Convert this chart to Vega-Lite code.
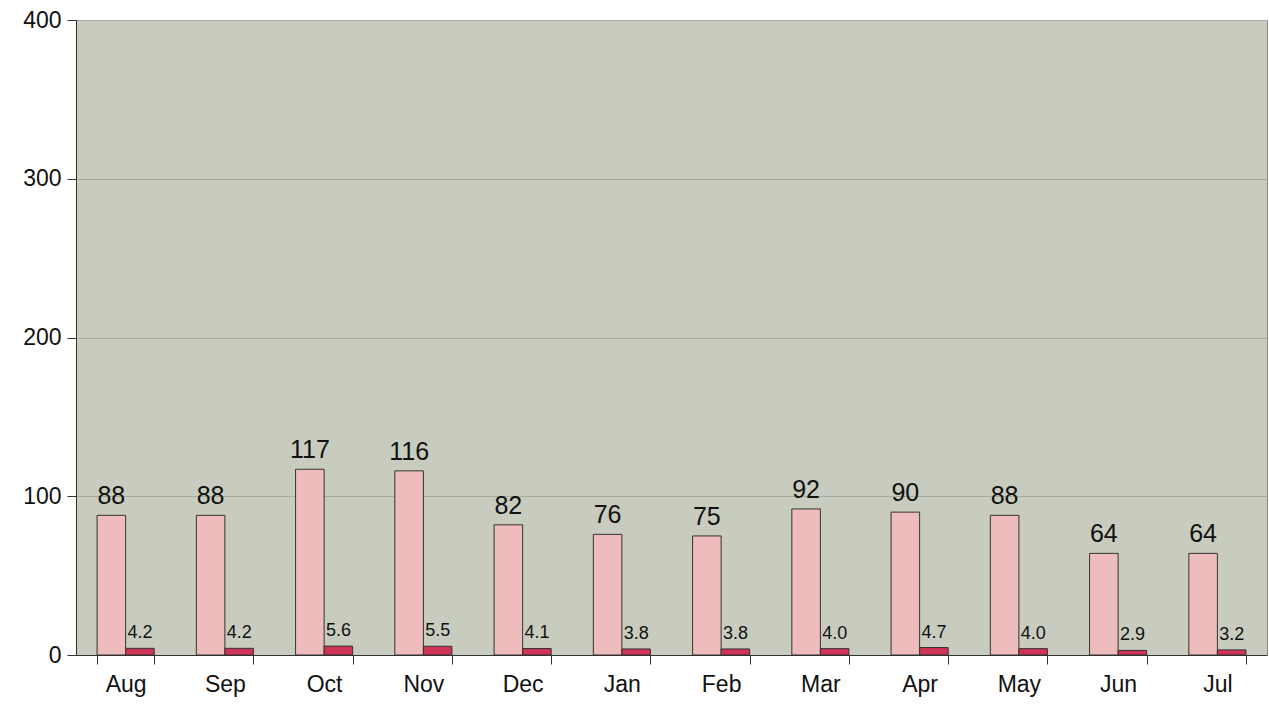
{
  "$schema": "https://vega.github.io/schema/vega-lite/v6.json",
  "width": 1191,
  "height": 635,
  "autosize": "none",
  "padding": {"left": 76, "top": 20, "right": 2, "bottom": 50},
  "background": "white",
  "config": {
    "font": "Liberation Sans",
    "view": {"fill": "#c8ccbe", "stroke": "#8a8e80", "strokeWidth": 1}
  },
  "data": {
    "values": [
      {"month": "Aug", "series": "A", "value": 88},
      {"month": "Aug", "series": "B", "value": 4.2},
      {"month": "Sep", "series": "A", "value": 88},
      {"month": "Sep", "series": "B", "value": 4.2},
      {"month": "Oct", "series": "A", "value": 117},
      {"month": "Oct", "series": "B", "value": 5.6},
      {"month": "Nov", "series": "A", "value": 116},
      {"month": "Nov", "series": "B", "value": 5.5},
      {"month": "Dec", "series": "A", "value": 82},
      {"month": "Dec", "series": "B", "value": 4.1},
      {"month": "Jan", "series": "A", "value": 76},
      {"month": "Jan", "series": "B", "value": 3.8},
      {"month": "Feb", "series": "A", "value": 75},
      {"month": "Feb", "series": "B", "value": 3.8},
      {"month": "Mar", "series": "A", "value": 92},
      {"month": "Mar", "series": "B", "value": 4.0},
      {"month": "Apr", "series": "A", "value": 90},
      {"month": "Apr", "series": "B", "value": 4.7},
      {"month": "May", "series": "A", "value": 88},
      {"month": "May", "series": "B", "value": 4.0},
      {"month": "Jun", "series": "A", "value": 64},
      {"month": "Jun", "series": "B", "value": 2.9},
      {"month": "Jul", "series": "A", "value": 64},
      {"month": "Jul", "series": "B", "value": 3.2}
    ]
  },
  "encoding": {
    "x": {
      "field": "month",
      "type": "nominal",
      "sort": ["Aug", "Sep", "Oct", "Nov", "Dec", "Jan", "Feb", "Mar", "Apr", "May", "Jun", "Jul"],
      "scale": {"paddingInner": 0.425, "paddingOuter": 0.2125},
      "axis": {
        "title": null,
        "labelAngle": 0,
        "labelFontSize": 23,
        "labelColor": "#111",
        "labelPadding": 9,
        "tickBand": "extent",
        "tickSize": 9,
        "tickColor": "#333",
        "domainColor": "#333",
        "grid": false
      }
    },
    "xOffset": {
      "field": "series",
      "type": "nominal",
      "sort": ["A", "B"],
      "scale": {"paddingInner": 0, "paddingOuter": 0}
    },
    "y": {
      "field": "value",
      "type": "quantitative",
      "scale": {"domain": [0, 400], "nice": false},
      "axis": {
        "title": null,
        "values": [0, 100, 200, 300, 400],
        "labelFontSize": 23,
        "labelColor": "#111",
        "labelPadding": 6,
        "tickSize": 9,
        "tickColor": "#333",
        "domainColor": "#333",
        "grid": true,
        "gridColor": "#a7ac9b",
        "gridWidth": 1
      }
    }
  },
  "layer": [
    {
      "mark": {"type": "bar", "stroke": "#333", "strokeWidth": 1},
      "encoding": {
        "color": {
          "field": "series",
          "type": "nominal",
          "scale": {"domain": ["A", "B"], "range": ["#eebcbc", "#cf3458"]},
          "legend": null
        }
      }
    },
    {
      "transform": [{"filter": "datum.series === 'A'"}],
      "mark": {"type": "text", "baseline": "bottom", "dy": -6, "fontSize": 25, "color": "#111"},
      "encoding": {"text": {"field": "value", "type": "quantitative", "format": "d"}}
    },
    {
      "transform": [{"filter": "datum.series === 'B'"}],
      "mark": {"type": "text", "baseline": "bottom", "dy": -6, "fontSize": 18, "color": "#111"},
      "encoding": {"text": {"field": "value", "type": "quantitative", "format": ".1f"}}
    }
  ]
}
